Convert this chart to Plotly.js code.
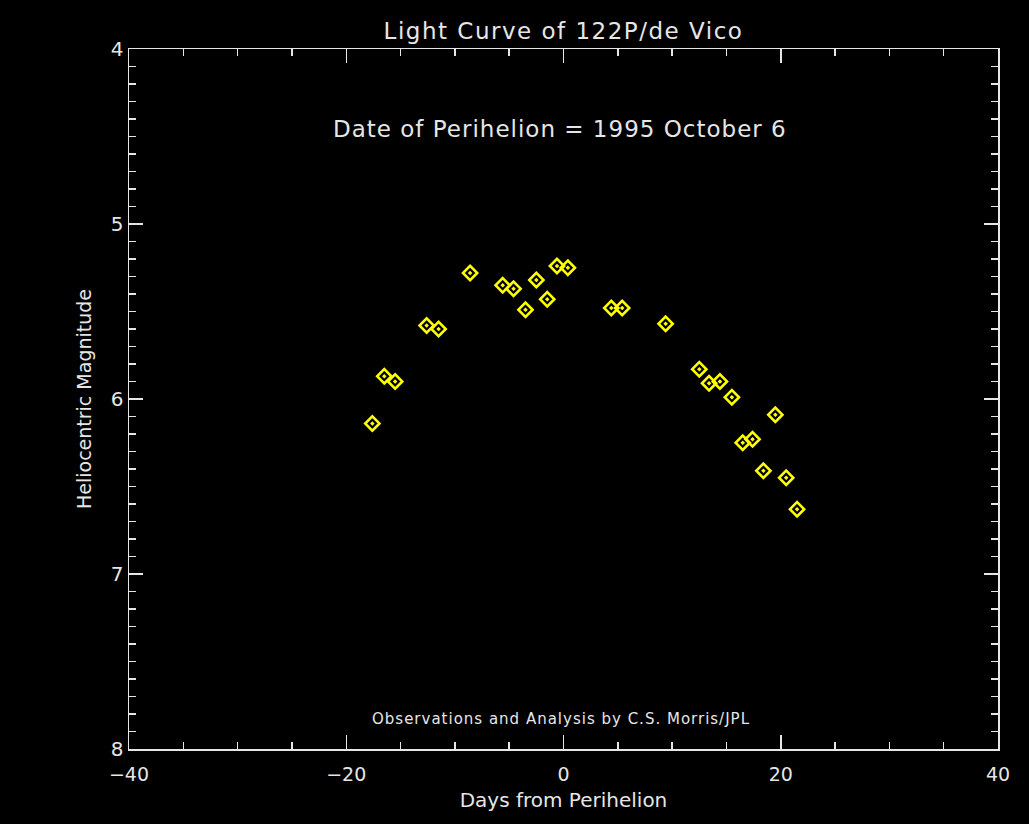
<!DOCTYPE html>
<html>
<head>
<meta charset="utf-8">
<script src="https://cdn.plot.ly/plotly-3.0.1.min.js"></script>
<style>
html,body{margin:0;padding:0;background:#000;}
svg text.gtitle{letter-spacing:1.5px;}
svg text.annotation-text{letter-spacing:1px;}
</style>
</head>
<body>
<div id="chart" style="width:1029px;height:824px;"></div>
<script>
var days = [-17.6, -16.5, -15.5, -12.6, -11.5, -8.6, -5.6, -4.6, -3.5, -2.5, -1.5, -0.6, 0.4,
            4.4, 5.4, 9.4, 12.5, 13.4, 14.4, 15.5, 16.5, 17.4, 18.4, 19.5, 20.5, 21.5];
var magnitude = [6.14, 5.87, 5.90, 5.58, 5.60, 5.28, 5.35, 5.37, 5.49, 5.32, 5.43, 5.24, 5.25,
                 5.48, 5.48, 5.57, 5.83, 5.91, 5.90, 5.99, 6.25, 6.23, 6.41, 6.09, 6.45, 6.63];
var xTicks = [-40, -20, 0, 20, 40];
var yTicks = [4, 5, 6, 7, 8];

var fg = '#e6e6e6';
var fnt = 'DejaVu Sans, sans-serif';

var trace = {
  x: days, y: magnitude, type: 'scatter', mode: 'markers',
  marker: {symbol: 'diamond-open-dot', size: 11, color: '#ffff00', line: {color: '#ffff00', width: 2.5}},
  hoverinfo: 'skip'
};

var layout = {
  width: 1029, height: 824,
  paper_bgcolor: '#000', plot_bgcolor: '#000',
  margin: {l: 129, r: 31, t: 49, b: 75},
  showlegend: false,
  title: {text: 'Light Curve of 122P/de Vico', font: {family: fnt, size: 23, color: fg}, xref: 'paper', x: 0.5, xanchor: 'center', y: 0.963, yanchor: 'middle'},
  xaxis: {
    range: [-40, 40], tickvals: xTicks, ticktext: xTicks.map(function(v){return v < 0 ? '\u2212' + Math.abs(v) : String(v);}),
    showgrid: false, zeroline: false,
    showline: true, linecolor: fg, linewidth: 1.5, mirror: 'ticks',
    ticks: 'inside', ticklen: 14, tickwidth: 1.5, tickcolor: fg,
    minor: {dtick: 5, ticks: 'inside', ticklen: 7, tickwidth: 1.5, tickcolor: fg, showgrid: false},
    tickfont: {family: fnt, size: 19, color: fg}, ticklabelstandoff: 8,
    title: {text: 'Days from Perihelion', font: {family: fnt, size: 20, color: fg}, standoff: 8}
  },
  yaxis: {
    range: [8, 4], tickvals: yTicks, ticktext: yTicks.map(String),
    showgrid: false, zeroline: false,
    showline: true, linecolor: fg, linewidth: 1.5, mirror: 'ticks',
    ticks: 'inside', ticklen: 14, tickwidth: 1.5, tickcolor: fg,
    minor: {dtick: 0.1, ticks: 'inside', ticklen: 7, tickwidth: 1.5, tickcolor: fg, showgrid: false},
    tickfont: {family: fnt, size: 20, color: fg},
    title: {text: 'Heliocentric Magnitude', font: {family: fnt, size: 19, color: fg}, standoff: 14}
  },
  annotations: [
    {text: 'Date of Perihelion = 1995 October 6', xref: 'paper', yref: 'paper', x: 0.496, y: 0.886,
     showarrow: false, font: {family: fnt, size: 23, color: fg}, xanchor: 'center', yanchor: 'middle'},
    {text: 'Observations and Analysis by C.S. Morris/JPL', xref: 'paper', yref: 'paper', x: 0.497, y: 0.043,
     showarrow: false, font: {family: fnt, size: 15, color: fg}, xanchor: 'center', yanchor: 'middle'}
  ]
};

Plotly.newPlot('chart', [trace], layout, {displayModeBar: false, staticPlot: true});
</script>
</body>
</html>
